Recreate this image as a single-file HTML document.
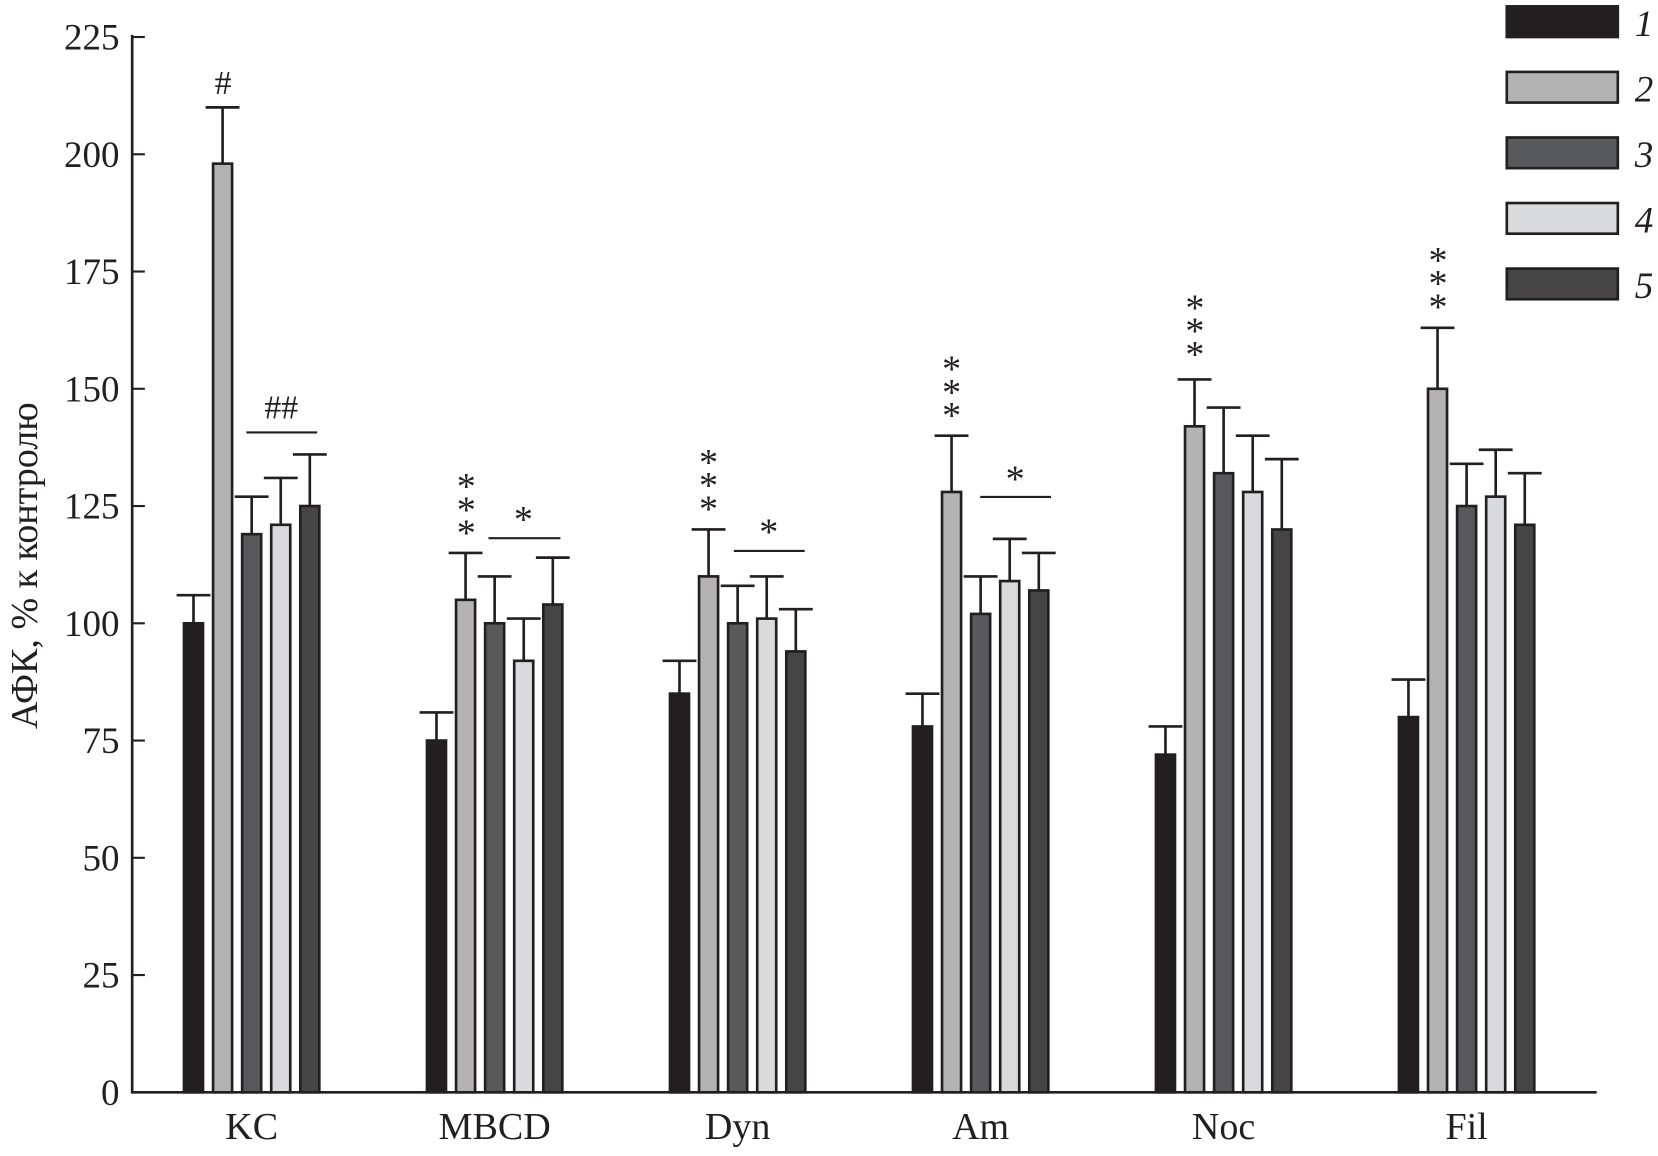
<!DOCTYPE html>
<html><head><meta charset="utf-8"><style>
body{margin:0;background:#fff}
svg text{font-family:"Liberation Serif",serif;fill:#231f20}
</style></head><body>
<svg id="chart" width="1658" height="1151" viewBox="0 0 1568 1088.5" xmlns="http://www.w3.org/2000/svg">
<g id="axes"></g><g id="bars"></g><g id="annot"></g><g id="legend"></g>
</svg>
<script>
const categories=["KC","MBCD","Dyn","Am","Noc","Fil"];
const s1=[100,75,85,78,72,80];
const s2=[198,105,110,128,142,150];
const s3=[119,100,100,102,132,125];
const s4=[121,92,101,109,128,127];
const s5=[125,104,94,107,120,121];
const e1=[106,81,92,85,78,88];
const e2=[210,115,120,140,152,163];
const e3=[127,110,108,110,146,134];
const e4=[131,101,110,118,140,137];
const e5=[136,114,103,115,135,132];
const yTicks=[0,25,50,75,100,125,150,175,200,225];
const seriesNames=["1","2","3","4","5"];
const colors=["#231f20","#b3b3b3","#58595b","#d9dadb","#454545"];
const series=[s1,s2,s3,s4,s5], errs=[e1,e2,e3,e4,e5];
const NS="http://www.w3.org/2000/svg";
const y=v=>1033-v*(998/225);
const gx=i=>174+i*229.8;
const bx=(i,k)=>gx(i)+k*27.5;
const BW=18;
function mk(tag,attrs,parent){const e=document.createElementNS(NS,tag);for(const k in attrs)e.setAttribute(k,attrs[k]);parent.appendChild(e);return e;}
const axes=document.getElementById('axes'),bars=document.getElementById('bars'),an=document.getElementById('annot'),lg=document.getElementById('legend');
let a=mk('line',{x1:125,y1:33,x2:125,y2:1034,stroke:'#231f20','stroke-width':2.5},axes);


a=mk('line',{x1:124,y1:1033,x2:1510,y2:1033,stroke:'#231f20','stroke-width':2.5},axes);


yTicks.forEach(t=>{
  mk('line',{x1:125,y1:y(t),x2:137,y2:y(t),stroke:'#231f20','stroke-width':2},axes);
  const tx=mk('text',{x:113,y:y(t)+12,'text-anchor':'end','font-size':35},axes);tx.textContent=t;
  
  
});
const yt=mk('text',{x:0,y:0,transform:'translate(35,535) rotate(-90)','text-anchor':'middle','font-size':36},axes);
yt.textContent='АФК, % к контролю';


categories.forEach((c,i)=>{
  const t=mk('text',{x:gx(i)+64,y:1077,'text-anchor':'middle','font-size':36},axes);t.textContent=c;
  
  
  series.forEach((s,k)=>{
    const cx=bx(i,k)+BW/2;
    const el=mk('line',{x1:cx,y1:y(errs[k][i]),x2:cx,y2:y(s[i]),stroke:'#231f20','stroke-width':2.5},bars);
    
    
    mk('line',{x1:cx-16,y1:y(errs[k][i]),x2:cx+16,y2:y(errs[k][i]),stroke:'#231f20','stroke-width':2.5},bars);
    const r=mk('rect',{x:bx(i,k),y:y(s[i]),width:BW,height:1033-y(s[i]),fill:colors[k],stroke:'#231f20','stroke-width':2.5},bars);
    
    
  });
});
function txt(x,yy,s,size){const t=mk('text',{x:x,y:yy,'text-anchor':'middle','font-size':size},an);t.textContent=s;
  
  return t;}
function line(x1,x2,yy){mk('line',{x1:x1,y1:yy,x2:x2,y2:yy,stroke:'#231f20','stroke-width':2},an);}
function stars(x,top){for(let j=0;j<3;j++)txt(x,top+j*22+25,'*',36);}
txt(211,89,'#',32);
txt(266,396,'##',32);line(233,300,409);
stars(441,447);txt(495,503,'*',36);line(462,530,509);
stars(670,424);txt(727,515,'*',36);line(694,761,521);
stars(900,336);txt(960,465,'*',36);line(927,994,470);
stars(1130,278);
stars(1360,233);
seriesNames.forEach((n,k)=>{
  const yy=6+k*62;
  const r=mk('rect',{x:1425,y:yy,width:105,height:29,fill:colors[k],stroke:'#231f20','stroke-width':2.5},lg);
  
  
  const t=mk('text',{x:1546,y:yy+28,'font-size':35,'font-style':'italic'},lg);t.textContent=n;
  
  
});
</script>
</body></html>
